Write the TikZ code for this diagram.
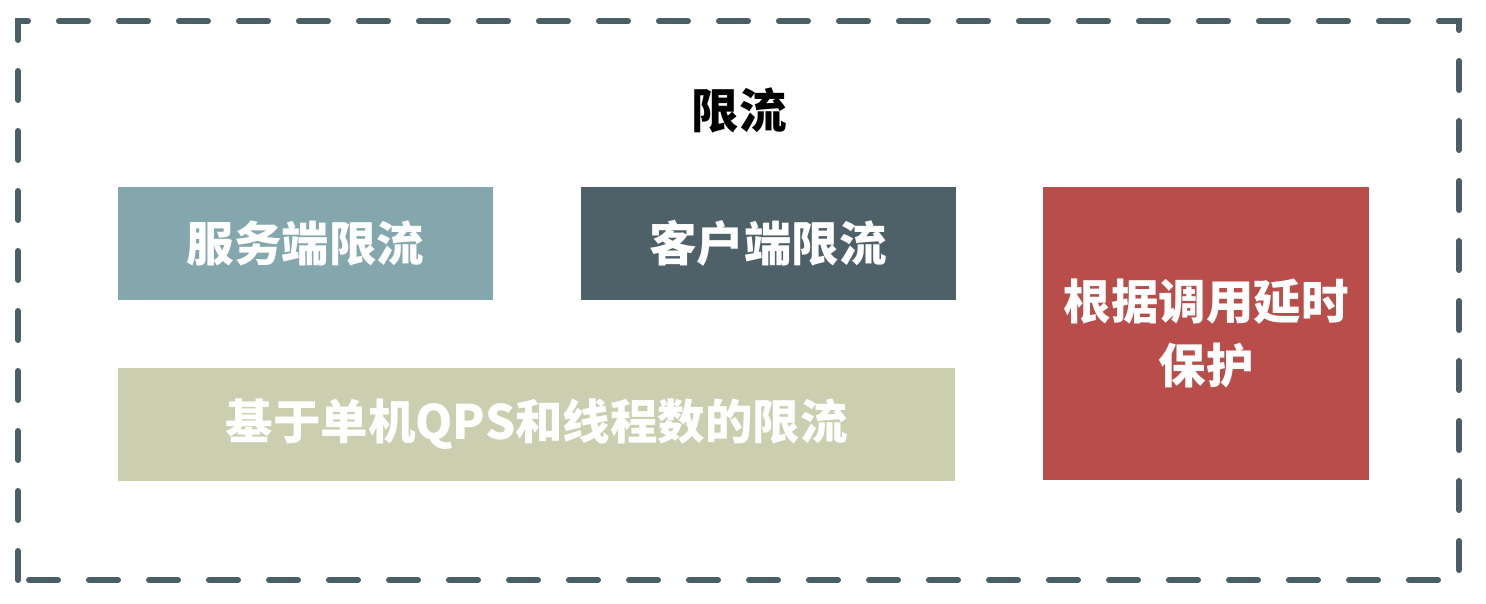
\documentclass[tikz,border=0pt]{standalone}
\usepackage{fontspec}
\newfontfamily\cjk{Noto Sans CJK SC}
\usepackage{tikz}
\usetikzlibrary{positioning}

\definecolor{frameline}{HTML}{4A5E66}
\definecolor{srvfill}{HTML}{84A7AE}
\definecolor{clifill}{HTML}{4E6169}
\definecolor{qpsfill}{HTML}{CBCFAF}
\definecolor{delayfill}{HTML}{B84D4A}

\begin{document}
\begin{tikzpicture}[
node distance=87pt,
block/.style={
inner sep=0pt,
align=center,
minimum width=375pt,
minimum height=113pt,
text=white,
font=\cjk\bfseries\fontsize{47.5pt}{64pt}\selectfont
},
frame/.style={
draw=frameline,
line width=6pt,
line cap=round,
dash pattern=on 29pt off 31pt
}
]
\useasboundingbox (0,0) rectangle (1486pt,604pt);

% outer dashed frame
\draw[frame] (18pt,24pt) rectangle (1459pt,583pt);

\node[font=\cjk\bfseries\fontsize{47.5pt}{52pt}\selectfont] (title) at (739pt,494pt) {限流};

\node[block, fill=srvfill, anchor=north west] (srv) at (118pt,417pt)
{服务端限流};

\node[block, fill=clifill, right=of srv] (cli)
{客户端限流};

\node[block, fill=qpsfill, minimum width=837pt,
below=67pt of srv.south west, anchor=north west] (qps)
{基于单机QPS和线程数的限流};

\node[block, fill=delayfill, minimum width=326pt, minimum height=293pt,
right=of cli.north east, anchor=north west] (delay)
{根据调用延时\\保护};

\end{tikzpicture}
\end{document}
